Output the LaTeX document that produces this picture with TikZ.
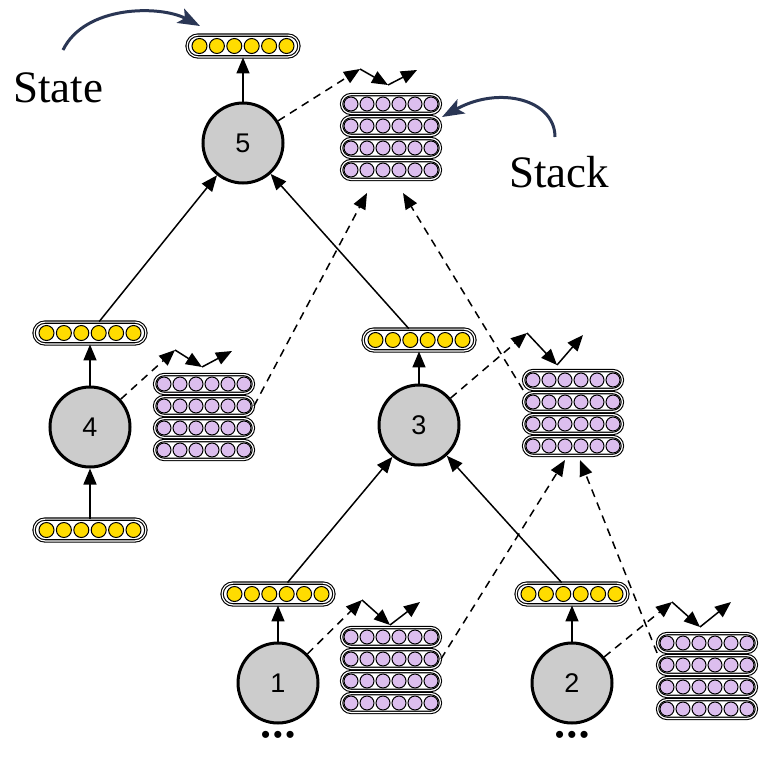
\documentclass[tikz,border=0pt]{standalone}
\usepackage{fontspec}
\setmainfont{Liberation Serif}
\setsansfont{Liberation Sans}
\newfontfamily\dotfont{Liberation Sans}[LetterSpace=12.0]
\usetikzlibrary{arrows.meta}
\definecolor{nodegray}{RGB}{204,204,204}
\definecolor{stateyellow}{RGB}{255,220,0}
\definecolor{stacklilac}{RGB}{220,190,238}
\definecolor{navy}{RGB}{42,54,84}

\begin{document}
\begin{tikzpicture}[x=0.5pt, y=-0.5pt,
        tnode/.style={circle, draw, line width=1.5pt, fill=nodegray, minimum size=40pt, inner sep=0pt, font=\sffamily\fontsize{13.5}{16}\selectfont},
        statebar/.style={draw, line width=0.55pt, double=white, double distance=0.6pt, rounded corners=5.4pt, minimum width=55.9pt, minimum height=10.9pt, inner sep=0pt},
        stackrow/.style={statebar, rounded corners=4.7pt, minimum width=49.4pt, minimum height=9.4pt},
        ydot/.style={draw, line width=0.5pt, fill=stateyellow},
        pdot/.style={draw, line width=0.5pt, fill=stacklilac},
        link/.style={-{Triangle[length=8pt,width=6.5pt]}, line width=0.75pt},
        flow/.style={link, dash pattern=on 4pt off 3pt},
        callout/.style={-{Stealth[length=11pt,width=8pt,inset=2.5pt]}, line width=1.5pt, draw=navy},
        note/.style={font=\fontsize{22.5}{26}\selectfont, anchor=base, inner sep=0pt},
        ellip/.style={font=\dotfont\fontsize{13}{16}\selectfont, anchor=base, inner sep=0pt}]

        \useasboundingbox (0,0) rectangle (761,761);

        \node[tnode] (n5) at (243,143) {5};
        \node[tnode] (n4) at (90,427) {4};
        \node[tnode] (n3) at (419,425) {3};
        \node[tnode] (n1) at (278,683) {1};
        \node[tnode] (n2) at (572,683) {2};

        \foreach \name/\x/\y in {s5/243/46, s4/90/333, s4b/90/530, s3/419/340, s1/278/594, s2/572/594} {
            \node[statebar] (\name) at (\x,\y) {};
            \foreach \i in {0,...,5}
                \filldraw[ydot] (\x-43.5+17.4*\i,\y) circle (3.75pt);
        }

        \foreach \name/\x/\y in {k5/391/93, k4/204/373, k3/573/369, k1/391/626, k2/707/632} {
            \foreach \r in {1,...,4} {
                \node[stackrow] (\name-\r) at (\x,\y-11+22*\r) {};
                \foreach \i in {0,...,5}
                    \filldraw[pdot] (\x-40+16*\i,\y-11+22*\r) circle (3.5pt);
            }
        }

        \coordinate (a5) at (360,69);
        \coordinate (b5) at (388,85);
        \coordinate (c5) at (417,70);
        \coordinate (a4) at (175,350);
        \coordinate (b4) at (202,367);
        \coordinate (c4) at (232,351);
        \coordinate (a3) at (527,333);
        \coordinate (b3) at (557,365);
        \coordinate (c3) at (583,335);
        \coordinate (a1) at (362,600);
        \coordinate (b1) at (390,625);
        \coordinate (c1) at (420,602);
        \coordinate (a2) at (672,602);
        \coordinate (b2) at (700,627);
        \coordinate (c2) at (731,602);

        \draw[link] (n5) -- (s5);
        \draw[link] (n4) -- (s4);
        \draw[link] (s4b) -- (n4);
        \draw[link] (n3) -- (s3);
        \draw[link] (n1) -- (s1);
        \draw[link] (n2) -- (s2);
        \draw[link] (s4) -- (n5);
        \draw[link] (s3) -- (n5);
        \draw[link] (s1) -- (n3);
        \draw[link] (s2) -- (n3);

        \foreach \n in {5,4,3,1,2} {
            \draw[flow] (n\n) -- (a\n);
            \draw[link] (a\n) -- (b\n);
            \draw[link] (b\n) -- (c\n);
        }

        \coordinate (t5a) at (367,193);
        \coordinate (t5b) at (403,193);
        \coordinate (t3a) at (565,460);
        \coordinate (t3b) at (580,460);

        \draw[flow] (k4-2.east) -- (t5a);
        \draw[flow] (k3-1.south west) -- (t5b);
        \draw[flow] (k1-2.east) -- (t3a);
        \draw[flow] (k2-1.south west) -- (t3b);

        \node[note] (lstate) at (58,102) {State};
        \node[note] (lstack) at (559,187) {Stack};

        \coordinate (p1) at (63,50);
        \coordinate (p2) at (200,26);
        \coordinate (q1) at (555,137);
        \coordinate (q2) at (442,117);

        \draw[callout] (p1) .. controls (85,5) and (160,5) .. (p2);
        \draw[callout] (q1) .. controls (555,100) and (500,85) .. (q2);

        \node[ellip] (d1) at (278,743) {•••};
        \node[ellip] (d2) at (572,743) {•••};
    \end{tikzpicture}
\end{document}
